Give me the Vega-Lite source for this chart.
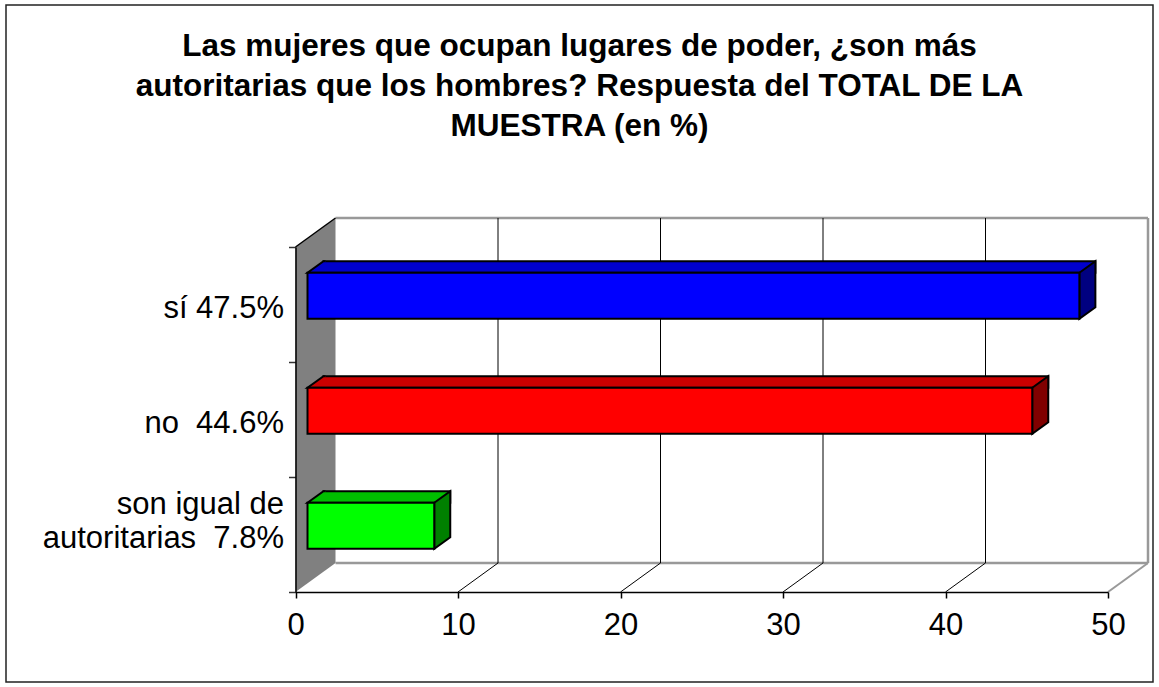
{
  "$schema": "https://vega.github.io/schema/vega-lite/v6.json",
  "width": 1147,
  "height": 677,
  "autosize": {"type": "none"},
  "padding": {"left": 6, "top": 5, "right": 6, "bottom": 5},
  "background": "white",
  "config": {"view": {"stroke": "#222222", "strokeWidth": 1.5}, "font": "Liberation Sans"},
  "title": {
    "text": ["Las mujeres que ocupan lugares de poder, ¿son más", "autoritarias que los hombres? Respuesta del TOTAL DE LA", "MUESTRA (en %)"],
    "font": "Liberation Sans",
    "fontSize": 31.5,
    "fontWeight": "bold",
    "color": "black",
    "anchor": "middle",
    "frame": "group",
    "lineHeight": 40,
    "offset": -153
  },
  "datasets": {
    "bars": [
      {"cat": "sí 47.5%", "value": 47.5},
      {"cat": "no \u00a044.6%", "value": 44.6},
      {"cat": "son igual de\nautoritarias \u00a07.8%", "value": 7.8}
    ],
    "ticks": [{"tick": 0}, {"tick": 10}, {"tick": 20}, {"tick": 30}, {"tick": 40}, {"tick": 50}]
  },
  "resolve": {"scale": {"fill": "independent"}},
  "layer": [
    {
      "data": {"name": "ticks"},
      "mark": {"type": "line", "color": "#999999", "strokeWidth": 2.5, "xOffset": 40, "yOffset": -29},
      "encoding": {
        "x": {"field": "tick", "type": "quantitative", "scale": {"domain": [0, 50], "range": [289.5, 1102], "nice": false, "zero": false}, "axis": {"values": [0, 10, 20, 30, 40, 50], "orient": "bottom", "offset": -90, "domainColor": "black", "domainWidth": 1.5, "tickColor": "black", "tickSize": 6, "tickWidth": 1.5, "labelFontSize": 31, "labelFont": "Liberation Sans", "labelColor": "black", "labelPadding": 12, "labelFlush": false, "labelOverlap": false, "grid": false, "title": null, "zindex": 1}},
        "y": {"datum": "sí 47.5%", "type": "nominal", "bandPosition": 0, "scale": {"type": "band", "domain": ["sí 47.5%", "no \u00a044.6%", "son igual de\nautoritarias \u00a07.8%"], "range": [242, 587], "paddingInner": 0, "paddingOuter": 0}, "axis": {"orient": "left", "offset": -289.5, "domainColor": "black", "domainWidth": 1.5, "tickColor": "#333333", "tickSize": 7, "tickWidth": 1.5, "tickBand": "extent", "labelFontSize": 31, "labelFont": "Liberation Sans", "labelColor": "black", "labelPadding": 5, "labelLimit": 600, "labelExpr": "indexof(datum.label, '\\n') >= 0 ? split(datum.label, '\\n') : ['\u00a0', datum.label]", "labelLineHeight": 34, "labelOffset": -30, "grid": false, "title": null, "zindex": 1}}
      }
    },
    {
      "data": {"name": "ticks"},
      "mark": {"type": "line", "color": "#999999", "strokeWidth": 2.5, "xOffset": 40, "yOffset": -29},
      "encoding": {
        "x": {"field": "tick", "type": "quantitative", "axis": {"values": [0, 10, 20, 30, 40, 50], "orient": "bottom", "offset": -90, "domainColor": "black", "domainWidth": 1.5, "tickColor": "black", "tickSize": 6, "tickWidth": 1.5, "labelFontSize": 31, "labelFont": "Liberation Sans", "labelColor": "black", "labelPadding": 12, "labelFlush": false, "labelOverlap": false, "grid": false, "title": null, "zindex": 1}},
        "y": {"datum": "son igual de\nautoritarias \u00a07.8%", "type": "nominal", "bandPosition": 1, "axis": {"orient": "left", "offset": -289.5, "domainColor": "black", "domainWidth": 1.5, "tickColor": "#333333", "tickSize": 7, "tickWidth": 1.5, "tickBand": "extent", "labelFontSize": 31, "labelFont": "Liberation Sans", "labelColor": "black", "labelPadding": 5, "labelLimit": 600, "labelExpr": "indexof(datum.label, '\\n') >= 0 ? split(datum.label, '\\n') : ['\u00a0', datum.label]", "labelLineHeight": 34, "labelOffset": -30, "grid": false, "title": null, "zindex": 1}}
      }
    },
    {
      "data": {"name": "ticks"},
      "transform": [{"filter": "datum.tick == 50"}],
      "mark": {"type": "point", "shape": "M40,-29 L40,316", "size": 4, "filled": false, "stroke": "#999999", "strokeWidth": 2.5, "opacity": 1},
      "encoding": {
        "x": {"field": "tick", "type": "quantitative", "axis": {"values": [0, 10, 20, 30, 40, 50], "orient": "bottom", "offset": -90, "domainColor": "black", "domainWidth": 1.5, "tickColor": "black", "tickSize": 6, "tickWidth": 1.5, "labelFontSize": 31, "labelFont": "Liberation Sans", "labelColor": "black", "labelPadding": 12, "labelFlush": false, "labelOverlap": false, "grid": false, "title": null, "zindex": 1}},
        "y": {"datum": "sí 47.5%", "type": "nominal", "bandPosition": 0, "axis": {"orient": "left", "offset": -289.5, "domainColor": "black", "domainWidth": 1.5, "tickColor": "#333333", "tickSize": 7, "tickWidth": 1.5, "tickBand": "extent", "labelFontSize": 31, "labelFont": "Liberation Sans", "labelColor": "black", "labelPadding": 5, "labelLimit": 600, "labelExpr": "indexof(datum.label, '\\n') >= 0 ? split(datum.label, '\\n') : ['\u00a0', datum.label]", "labelLineHeight": 34, "labelOffset": -30, "grid": false, "title": null, "zindex": 1}}
      }
    },
    {
      "data": {"name": "ticks"},
      "transform": [{"filter": "datum.tick >= 10 && datum.tick <= 40"}],
      "mark": {"type": "point", "shape": "M40,-29 L40,316 M0,345 L40,316", "size": 4, "filled": false, "stroke": "black", "strokeWidth": 1, "opacity": 1},
      "encoding": {
        "x": {"field": "tick", "type": "quantitative", "axis": {"values": [0, 10, 20, 30, 40, 50], "orient": "bottom", "offset": -90, "domainColor": "black", "domainWidth": 1.5, "tickColor": "black", "tickSize": 6, "tickWidth": 1.5, "labelFontSize": 31, "labelFont": "Liberation Sans", "labelColor": "black", "labelPadding": 12, "labelFlush": false, "labelOverlap": false, "grid": false, "title": null, "zindex": 1}},
        "y": {"datum": "sí 47.5%", "type": "nominal", "bandPosition": 0, "axis": {"orient": "left", "offset": -289.5, "domainColor": "black", "domainWidth": 1.5, "tickColor": "#333333", "tickSize": 7, "tickWidth": 1.5, "tickBand": "extent", "labelFontSize": 31, "labelFont": "Liberation Sans", "labelColor": "black", "labelPadding": 5, "labelLimit": 600, "labelExpr": "indexof(datum.label, '\\n') >= 0 ? split(datum.label, '\\n') : ['\u00a0', datum.label]", "labelLineHeight": 34, "labelOffset": -30, "grid": false, "title": null, "zindex": 1}}
      }
    },
    {
      "data": {"name": "ticks"},
      "transform": [{"filter": "datum.tick == 50"}],
      "mark": {"type": "point", "shape": "M0,345 L40,316", "size": 4, "filled": false, "stroke": "#999999", "strokeWidth": 2, "opacity": 1},
      "encoding": {
        "x": {"field": "tick", "type": "quantitative", "axis": {"values": [0, 10, 20, 30, 40, 50], "orient": "bottom", "offset": -90, "domainColor": "black", "domainWidth": 1.5, "tickColor": "black", "tickSize": 6, "tickWidth": 1.5, "labelFontSize": 31, "labelFont": "Liberation Sans", "labelColor": "black", "labelPadding": 12, "labelFlush": false, "labelOverlap": false, "grid": false, "title": null, "zindex": 1}},
        "y": {"datum": "sí 47.5%", "type": "nominal", "bandPosition": 0, "axis": {"orient": "left", "offset": -289.5, "domainColor": "black", "domainWidth": 1.5, "tickColor": "#333333", "tickSize": 7, "tickWidth": 1.5, "tickBand": "extent", "labelFontSize": 31, "labelFont": "Liberation Sans", "labelColor": "black", "labelPadding": 5, "labelLimit": 600, "labelExpr": "indexof(datum.label, '\\n') >= 0 ? split(datum.label, '\\n') : ['\u00a0', datum.label]", "labelLineHeight": 34, "labelOffset": -30, "grid": false, "title": null, "zindex": 1}}
      }
    },
    {
      "data": {"name": "ticks"},
      "transform": [{"filter": "datum.tick == 0"}],
      "mark": {"type": "point", "shape": "M0,345 L0,0 L40,-29 L40,316 Z", "size": 4, "filled": true, "fill": "#808080", "strokeWidth": 0, "opacity": 1},
      "encoding": {
        "x": {"field": "tick", "type": "quantitative", "axis": {"values": [0, 10, 20, 30, 40, 50], "orient": "bottom", "offset": -90, "domainColor": "black", "domainWidth": 1.5, "tickColor": "black", "tickSize": 6, "tickWidth": 1.5, "labelFontSize": 31, "labelFont": "Liberation Sans", "labelColor": "black", "labelPadding": 12, "labelFlush": false, "labelOverlap": false, "grid": false, "title": null, "zindex": 1}},
        "y": {"datum": "sí 47.5%", "type": "nominal", "bandPosition": 0, "axis": {"orient": "left", "offset": -289.5, "domainColor": "black", "domainWidth": 1.5, "tickColor": "#333333", "tickSize": 7, "tickWidth": 1.5, "tickBand": "extent", "labelFontSize": 31, "labelFont": "Liberation Sans", "labelColor": "black", "labelPadding": 5, "labelLimit": 600, "labelExpr": "indexof(datum.label, '\\n') >= 0 ? split(datum.label, '\\n') : ['\u00a0', datum.label]", "labelLineHeight": 34, "labelOffset": -30, "grid": false, "title": null, "zindex": 1}}
      }
    },
    {
      "data": {"name": "ticks"},
      "transform": [{"filter": "datum.tick == 0"}],
      "mark": {"type": "point", "shape": "M0,0 L40,-29", "size": 4, "filled": false, "stroke": "black", "strokeWidth": 1.5, "opacity": 1},
      "encoding": {
        "x": {"field": "tick", "type": "quantitative", "axis": {"values": [0, 10, 20, 30, 40, 50], "orient": "bottom", "offset": -90, "domainColor": "black", "domainWidth": 1.5, "tickColor": "black", "tickSize": 6, "tickWidth": 1.5, "labelFontSize": 31, "labelFont": "Liberation Sans", "labelColor": "black", "labelPadding": 12, "labelFlush": false, "labelOverlap": false, "grid": false, "title": null, "zindex": 1}},
        "y": {"datum": "sí 47.5%", "type": "nominal", "bandPosition": 0, "axis": {"orient": "left", "offset": -289.5, "domainColor": "black", "domainWidth": 1.5, "tickColor": "#333333", "tickSize": 7, "tickWidth": 1.5, "tickBand": "extent", "labelFontSize": 31, "labelFont": "Liberation Sans", "labelColor": "black", "labelPadding": 5, "labelLimit": 600, "labelExpr": "indexof(datum.label, '\\n') >= 0 ? split(datum.label, '\\n') : ['\u00a0', datum.label]", "labelLineHeight": 34, "labelOffset": -30, "grid": false, "title": null, "zindex": 1}}
      }
    },
    {
      "data": {"name": "bars"},
      "mark": {"type": "bar", "height": 11.6, "yOffset": -37.5, "xOffset": 28, "x2Offset": 28, "stroke": "black", "strokeWidth": 2},
      "encoding": {
        "x": {"field": "value", "type": "quantitative", "axis": {"values": [0, 10, 20, 30, 40, 50], "orient": "bottom", "offset": -90, "domainColor": "black", "domainWidth": 1.5, "tickColor": "black", "tickSize": 6, "tickWidth": 1.5, "labelFontSize": 31, "labelFont": "Liberation Sans", "labelColor": "black", "labelPadding": 12, "labelFlush": false, "labelOverlap": false, "grid": false, "title": null, "zindex": 1}},
        "y": {"field": "cat", "type": "nominal", "axis": {"orient": "left", "offset": -289.5, "domainColor": "black", "domainWidth": 1.5, "tickColor": "#333333", "tickSize": 7, "tickWidth": 1.5, "tickBand": "extent", "labelFontSize": 31, "labelFont": "Liberation Sans", "labelColor": "black", "labelPadding": 5, "labelLimit": 600, "labelExpr": "indexof(datum.label, '\\n') >= 0 ? split(datum.label, '\\n') : ['\u00a0', datum.label]", "labelLineHeight": 34, "labelOffset": -30, "grid": false, "title": null, "zindex": 1}},
        "fill": {"field": "cat", "type": "nominal", "scale": {"domain": ["sí 47.5%", "no \u00a044.6%", "son igual de\nautoritarias \u00a07.8%"], "range": ["#0000CC", "#CC0000", "#00BF00"]}, "legend": null}
      }
    },
    {
      "data": {"name": "bars"},
      "mark": {"type": "point", "shape": "M30,-31.7 L12,-31.7 L28,-43.3 L30,-43.3", "size": 4, "filled": true, "stroke": "black", "strokeWidth": 2, "opacity": 1},
      "encoding": {
        "x": {"datum": 0, "type": "quantitative", "axis": {"values": [0, 10, 20, 30, 40, 50], "orient": "bottom", "offset": -90, "domainColor": "black", "domainWidth": 1.5, "tickColor": "black", "tickSize": 6, "tickWidth": 1.5, "labelFontSize": 31, "labelFont": "Liberation Sans", "labelColor": "black", "labelPadding": 12, "labelFlush": false, "labelOverlap": false, "grid": false, "title": null, "zindex": 1}},
        "y": {"field": "cat", "type": "nominal", "bandPosition": 0.5, "axis": {"orient": "left", "offset": -289.5, "domainColor": "black", "domainWidth": 1.5, "tickColor": "#333333", "tickSize": 7, "tickWidth": 1.5, "tickBand": "extent", "labelFontSize": 31, "labelFont": "Liberation Sans", "labelColor": "black", "labelPadding": 5, "labelLimit": 600, "labelExpr": "indexof(datum.label, '\\n') >= 0 ? split(datum.label, '\\n') : ['\u00a0', datum.label]", "labelLineHeight": 34, "labelOffset": -30, "grid": false, "title": null, "zindex": 1}},
        "fill": {"field": "cat", "type": "nominal", "scale": {"domain": ["sí 47.5%", "no \u00a044.6%", "son igual de\nautoritarias \u00a07.8%"], "range": ["#0000CC", "#CC0000", "#00BF00"]}, "legend": null}
      }
    },
    {
      "data": {"name": "bars"},
      "mark": {"type": "point", "shape": "M12,-31.7 L28,-43.3 L28,2.7 L12,14.3 Z", "size": 4, "filled": true, "stroke": "black", "strokeWidth": 2, "opacity": 1},
      "encoding": {
        "x": {"field": "value", "type": "quantitative", "axis": {"values": [0, 10, 20, 30, 40, 50], "orient": "bottom", "offset": -90, "domainColor": "black", "domainWidth": 1.5, "tickColor": "black", "tickSize": 6, "tickWidth": 1.5, "labelFontSize": 31, "labelFont": "Liberation Sans", "labelColor": "black", "labelPadding": 12, "labelFlush": false, "labelOverlap": false, "grid": false, "title": null, "zindex": 1}},
        "y": {"field": "cat", "type": "nominal", "bandPosition": 0.5, "axis": {"orient": "left", "offset": -289.5, "domainColor": "black", "domainWidth": 1.5, "tickColor": "#333333", "tickSize": 7, "tickWidth": 1.5, "tickBand": "extent", "labelFontSize": 31, "labelFont": "Liberation Sans", "labelColor": "black", "labelPadding": 5, "labelLimit": 600, "labelExpr": "indexof(datum.label, '\\n') >= 0 ? split(datum.label, '\\n') : ['\u00a0', datum.label]", "labelLineHeight": 34, "labelOffset": -30, "grid": false, "title": null, "zindex": 1}},
        "fill": {"field": "cat", "type": "nominal", "scale": {"domain": ["sí 47.5%", "no \u00a044.6%", "son igual de\nautoritarias \u00a07.8%"], "range": ["#000080", "#800000", "#008000"]}, "legend": null}
      }
    },
    {
      "data": {"name": "bars"},
      "mark": {"type": "bar", "height": 46, "yOffset": -8.7, "xOffset": 12, "x2Offset": 12, "stroke": "black", "strokeWidth": 2},
      "encoding": {
        "x": {"field": "value", "type": "quantitative", "axis": {"values": [0, 10, 20, 30, 40, 50], "orient": "bottom", "offset": -90, "domainColor": "black", "domainWidth": 1.5, "tickColor": "black", "tickSize": 6, "tickWidth": 1.5, "labelFontSize": 31, "labelFont": "Liberation Sans", "labelColor": "black", "labelPadding": 12, "labelFlush": false, "labelOverlap": false, "grid": false, "title": null, "zindex": 1}},
        "y": {"field": "cat", "type": "nominal", "axis": {"orient": "left", "offset": -289.5, "domainColor": "black", "domainWidth": 1.5, "tickColor": "#333333", "tickSize": 7, "tickWidth": 1.5, "tickBand": "extent", "labelFontSize": 31, "labelFont": "Liberation Sans", "labelColor": "black", "labelPadding": 5, "labelLimit": 600, "labelExpr": "indexof(datum.label, '\\n') >= 0 ? split(datum.label, '\\n') : ['\u00a0', datum.label]", "labelLineHeight": 34, "labelOffset": -30, "grid": false, "title": null, "zindex": 1}},
        "fill": {"field": "cat", "type": "nominal", "scale": {"domain": ["sí 47.5%", "no \u00a044.6%", "son igual de\nautoritarias \u00a07.8%"], "range": ["#0000FF", "#FF0000", "#00FF00"]}, "legend": null}
      }
    }
  ]
}
